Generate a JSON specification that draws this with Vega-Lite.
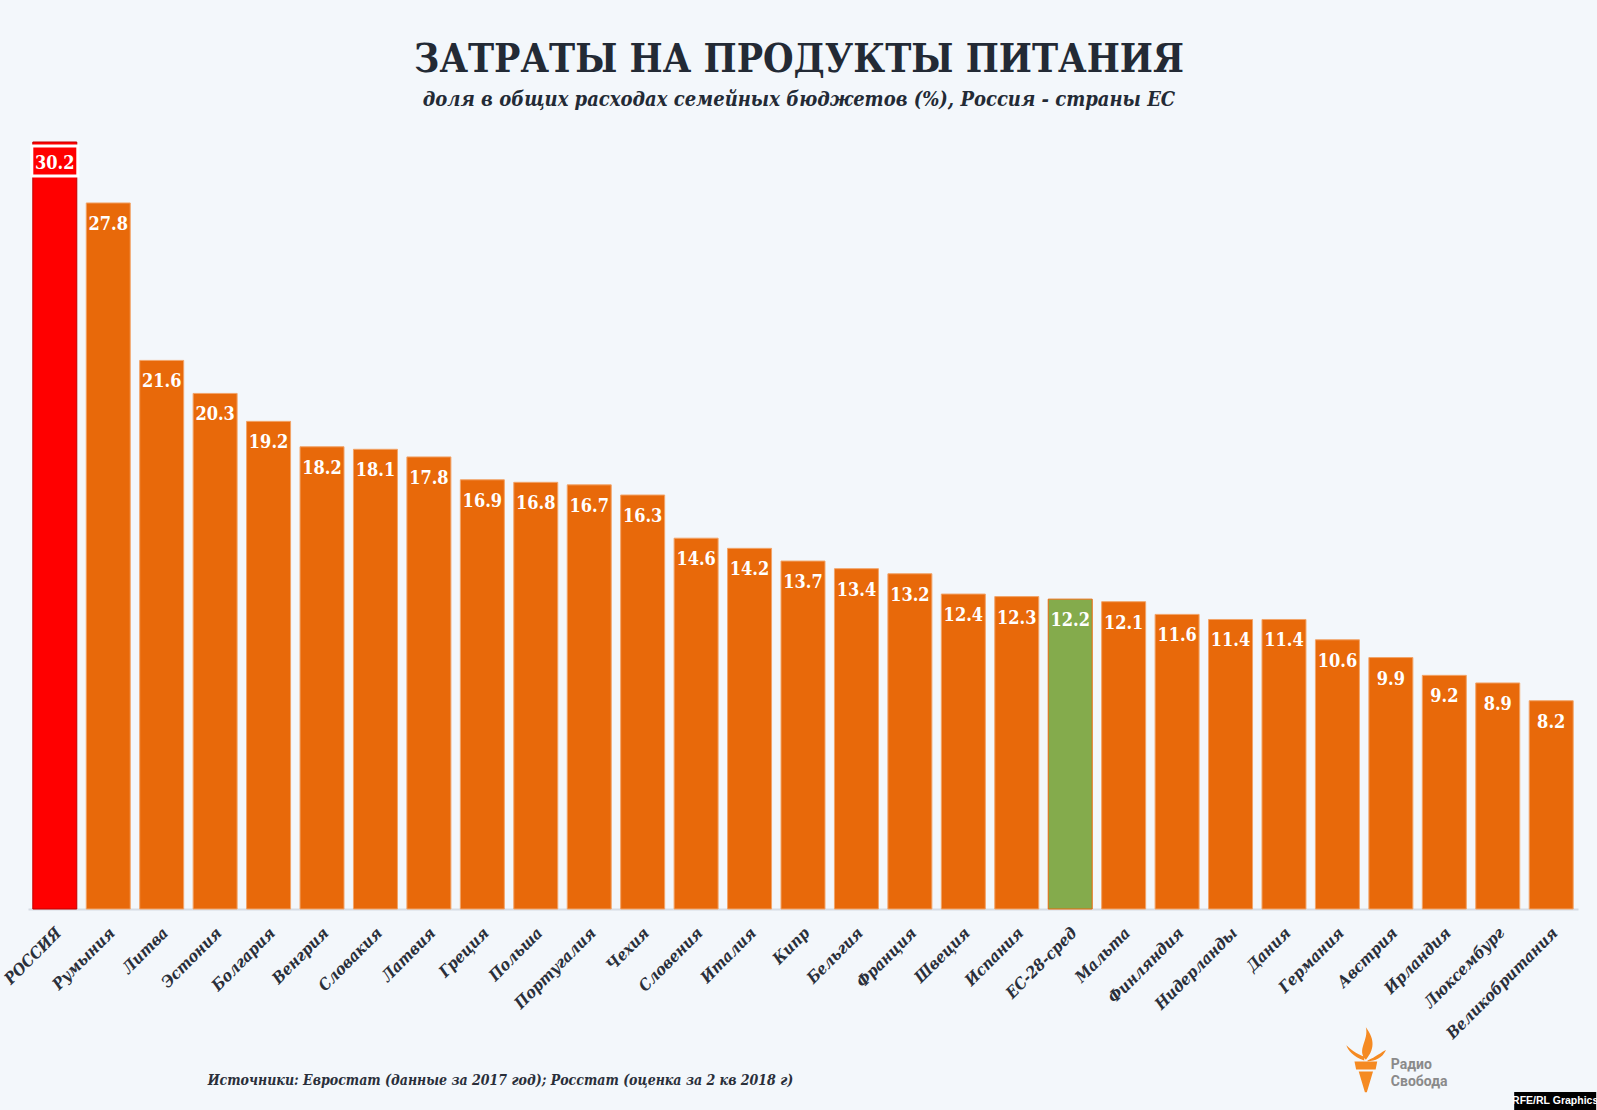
{
  "$schema": "https://vega.github.io/schema/vega-lite/v6.json",
  "width": 1550,
  "height": 767,
  "autosize": {"type": "none"},
  "padding": {"left": 28, "top": 142, "right": 19, "bottom": 201},
  "background": "#f3f7fb",
  "title": {
    "text": "ЗАТРАТЫ НА ПРОДУКТЫ ПИТАНИЯ",
    "subtitle": "доля в общих расходах семейных бюджетов (%), Россия - страны ЕС",
    "anchor": "middle",
    "dx": -4,
    "offset": 30,
    "font": "DejaVu Serif Condensed, DejaVu Serif",
    "fontSize": 39,
    "fontWeight": "bold",
    "color": "#232a35",
    "subtitleFont": "DejaVu Serif Condensed, DejaVu Serif",
    "subtitleFontSize": 20,
    "subtitleFontWeight": "bold",
    "subtitleFontStyle": "italic",
    "subtitleColor": "#232a35",
    "subtitlePadding": 10
  },
  "config": {"view": {"stroke": null}},
  "data": {
    "values": [
      {"country": "РОССИЯ", "value": 30.2},
      {"country": "Румыния", "value": 27.8},
      {"country": "Литва", "value": 21.6},
      {"country": "Эстония", "value": 20.3},
      {"country": "Болгария", "value": 19.2},
      {"country": "Венгрия", "value": 18.2},
      {"country": "Словакия", "value": 18.1},
      {"country": "Латвия", "value": 17.8},
      {"country": "Греция", "value": 16.9},
      {"country": "Польша", "value": 16.8},
      {"country": "Португалия", "value": 16.7},
      {"country": "Чехия", "value": 16.3},
      {"country": "Словения", "value": 14.6},
      {"country": "Италия", "value": 14.2},
      {"country": "Кипр", "value": 13.7},
      {"country": "Бельгия", "value": 13.4},
      {"country": "Франция", "value": 13.2},
      {"country": "Швеция", "value": 12.4},
      {"country": "Испания", "value": 12.3},
      {"country": "ЕС-28-сред", "value": 12.2},
      {"country": "Мальта", "value": 12.1},
      {"country": "Финляндия", "value": 11.6},
      {"country": "Нидерланды", "value": 11.4},
      {"country": "Дания", "value": 11.4},
      {"country": "Германия", "value": 10.6},
      {"country": "Австрия", "value": 9.9},
      {"country": "Ирландия", "value": 9.2},
      {"country": "Люксембург", "value": 8.9},
      {"country": "Великобритания", "value": 8.2}
    ]
  },
  "encoding": {
    "x": {
      "field": "country",
      "type": "nominal",
      "sort": null,
      "scale": {"paddingInner": 0.177, "paddingOuter": 0.09},
      "axis": {
        "title": "Источники: Евростат (данные  за 2017 год); Росстат (оценка за 2 кв 2018 г)",
        "titleFont": "DejaVu Serif Condensed, DejaVu Serif",
        "titleFontSize": 14,
        "titleFontWeight": "bold",
        "titleFontStyle": "italic",
        "titleColor": "#2a2f3a",
        "titleX": 472,
        "titleY": 171,
        "titleAnchor": null,
        "titleAlign": "center",
        "titleBaseline": "middle",
        "labelAngle": -45,
        "labelAlign": "right",
        "labelBaseline": "middle",
        "labelPadding": 21,
        "labelOffset": 4,
        "labelFont": "DejaVu Serif Condensed, DejaVu Serif",
        "labelFontSize": 16,
        "labelFontWeight": "bold",
        "labelFontStyle": "italic",
        "labelColor": "#2a2f3a",
        "labelOverlap": false,
        "ticks": false,
        "domainColor": "#d6dce4",
        "domainWidth": 2
      }
    },
    "y": {
      "field": "value",
      "type": "quantitative",
      "scale": {"domain": [0, 30.2], "nice": false},
      "axis": null
    }
  },
  "layer": [
    {
      "mark": {"type": "bar", "strokeWidth": 1},
      "encoding": {
        "color": {
          "condition": [
            {"test": "datum.country === 'РОССИЯ'", "value": "#ff0000"},
            {"test": "datum.country === 'ЕС-28-сред'", "value": "#84ab4c"}
          ],
          "value": "#e8690a"
        },
        "stroke": {
          "condition": [
            {"test": "datum.country === 'РОССИЯ'", "value": "#c00000"},
            {"test": "datum.country === 'ЕС-28-сред'", "value": "#e8690a"}
          ],
          "value": "#f2a468"
        }
      }
    },
    {
      "transform": [{"filter": "datum.country === 'РОССИЯ'"}],
      "mark": {
        "type": "point",
        "shape": "M-1,-0.65L1,-0.65L1,0.65L-1,0.65Z",
        "size": 2116,
        "filled": true,
        "fill": "#ff0000",
        "stroke": "#ffffff",
        "strokeWidth": 3,
        "opacity": 1,
        "yOffset": 19
      },
      "encoding": {}
    },
    {
      "mark": {
        "type": "text",
        "baseline": "middle",
        "dy": 22,
        "font": "DejaVu Serif Condensed, DejaVu Serif",
        "fontSize": 18,
        "fontWeight": "bold",
        "color": "#ffffff"
      },
      "encoding": {
        "text": {"field": "value", "type": "quantitative", "format": ".1f"}
      }
    },
    {
      "transform": [{"filter": "datum.country === 'Австрия'"}],
      "mark": {
        "type": "point",
        "shape": "M-0.35,0.05L0.35,0.05L0.3,0.3L-0.3,0.3Z M-0.22,0.36L0.22,0.36L0.03,1L-0.03,1Z M0,0C-0.3,-0.3,0.1,-0.6,0,-1C0.3,-0.6,0.25,-0.3,0,0Z M-0.05,0.02C-0.4,-0.1,-0.55,-0.3,-0.6,-0.45C-0.4,-0.25,-0.2,-0.15,-0.05,-0.1Z M0.05,0.02C0.3,-0.08,0.5,-0.25,0.62,-0.3C0.5,-0.05,0.3,0.04,0.05,0.04Z",
        "size": 4225,
        "filled": true,
        "fill": "#f58a22",
        "opacity": 1,
        "strokeWidth": 0,
        "xOffset": -25
      },
      "encoding": {
        "x": {"datum": "Австрия"},
        "y": {"datum": -5.94}
      }
    },
    {
      "transform": [{"filter": "datum.country === 'Австрия'"}],
      "mark": {
        "type": "text",
        "text": "Радио\nСвобода",
        "lineBreak": "\n",
        "lineHeight": 17,
        "align": "left",
        "baseline": "middle",
        "font": "Roboto, Liberation Sans",
        "fontSize": 14,
        "fontWeight": "bold",
        "color": "#8a8a8a"
      },
      "encoding": {
        "x": {"datum": "Австрия"},
        "y": {"datum": -6.15}
      }
    },
    {
      "transform": [{"filter": "datum.country === 'Великобритания'"}],
      "mark": {
        "type": "point",
        "shape": "M-1,-0.22L1,-0.22L1,0.22L-1,0.22Z",
        "size": 6724,
        "filled": true,
        "fill": "#000000",
        "opacity": 1,
        "strokeWidth": 0,
        "xOffset": 4
      },
      "encoding": {
        "x": {"datum": "Великобритания"},
        "y": {"datum": -7.56}
      }
    },
    {
      "transform": [{"filter": "datum.country === 'Великобритания'"}],
      "mark": {
        "type": "text",
        "text": "RFE/RL Graphics",
        "align": "center",
        "baseline": "middle",
        "font": "Liberation Sans, Arial",
        "fontSize": 10.5,
        "fontWeight": "bold",
        "color": "#ffffff",
        "xOffset": 4
      },
      "encoding": {
        "x": {"datum": "Великобритания"},
        "y": {"datum": -7.56}
      }
    }
  ]
}
